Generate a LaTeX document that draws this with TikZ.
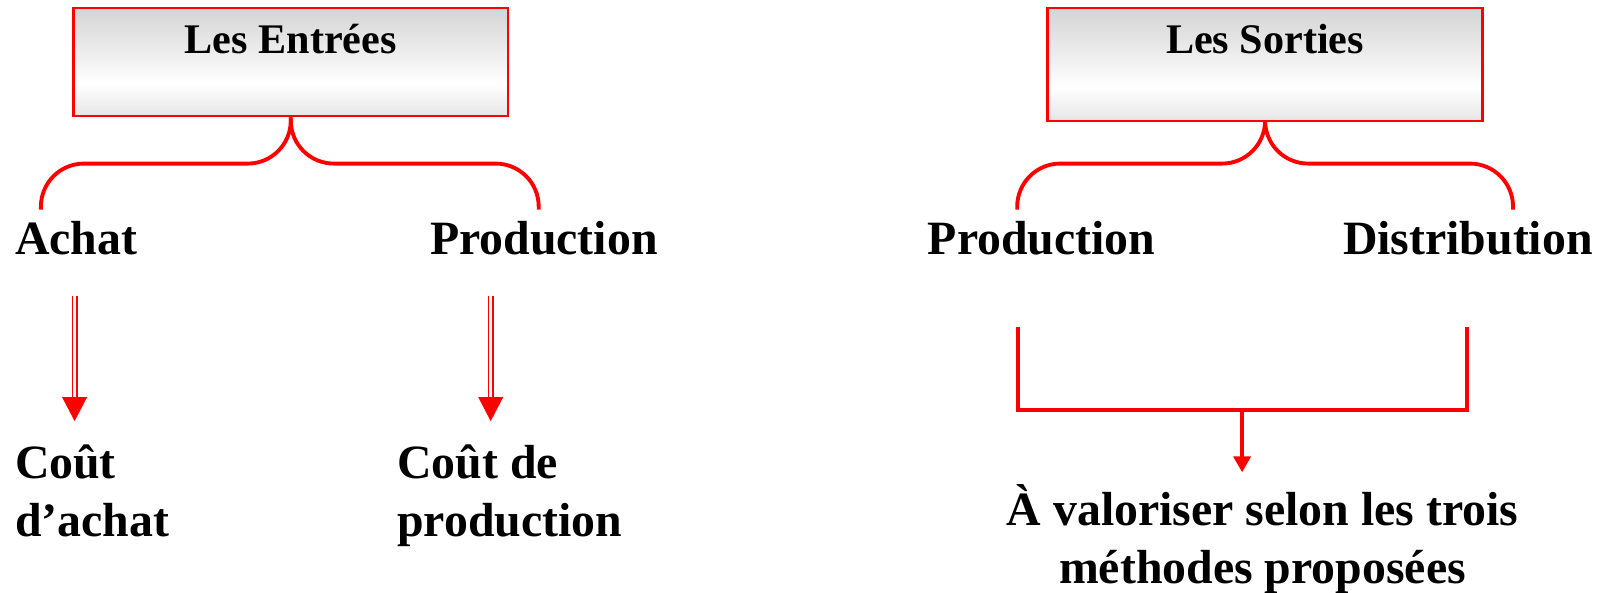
\documentclass[tikz,border=0pt]{standalone}
\usepackage{fontspec}
\setmainfont{Liberation Serif}
\usetikzlibrary{arrows.meta,positioning,calc}
\definecolor{linered}{RGB}{255,0,0}
\pgfdeclareverticalshading{boxshade}{100bp}{color(0bp)=(black!27); color(40bp)=(white); color(100bp)=(black!29)}

\begin{document}
\begin{tikzpicture}[
    titlebox/.style={rectangle, draw=linered, line width=0.8pt, shading=boxshade,
        minimum width=4.345cm, inner sep=0pt, text height=0.46cm, text depth=0.62cm, font=\fontsize{12}{14}\selectfont\bfseries},
    label/.style={inner sep=0pt, align=left, font=\fontsize{13.6}{16.4}\selectfont\bfseries},
    brace/.style={draw=linered, line width=1.1pt, rounded corners=0.43cm},
    dblarrow/.style={draw=linered, double=white, double distance=0.7pt, line width=0.5pt, -{Triangle[length=0.24cm,width=0.245cm]}},
    bracket/.style={draw=linered, line width=1.2pt},
    arrow/.style={draw=linered, line width=1.2pt, -{Triangle[length=0.16cm,width=0.17cm]}}
]
    \useasboundingbox (0,0) rectangle (16.03,-5.93);

    % Inputs
    \node[titlebox] (entrees) at (2.908,-0.62) {Les Entrées};
    \node[label, anchor=base west] (achat) at (0.143,-2.546) {Achat};
    \node[label, anchor=base west] (prodA) at (4.294,-2.546) {Production};
    \coordinate (bA) at (0.409,-2.096);
    \coordinate (bB) at (5.387,-2.096);
    \draw[brace] (entrees.south) |- ([yshift=0.46cm]bA) -- (bA);
    \draw[brace] (entrees.south) |- ([yshift=0.46cm]bB) -- (bB);

    % Costs
    \node[label, anchor=north west] (coutA) at (0.143,-4.44) {Coût\\d’achat};
    \node[label, anchor=north west] (coutB) at (3.966,-4.44) {Coût de\\production};
    \coordinate (aA) at (0.746,-2.965);
    \coordinate (aB) at (4.907,-2.965);
    \draw[dblarrow] (aA) -- (aA |- 0,-4.212);
    \draw[dblarrow] (aB) -- (aB |- 0,-4.212);

    % Outputs
    \node[titlebox, text depth=0.67cm] (sorties) at (12.651,-0.645) {Les Sorties};
    \node[label, anchor=base west] (prodB) at (9.272,-2.546) {Production};
    \node[label, anchor=base west] (distri) at (13.423,-2.546) {Distribution};
    \coordinate (bC) at (10.172,-2.096);
    \coordinate (bD) at (15.130,-2.096);
    \draw[brace] (sorties.south) |- ([yshift=0.46cm]bC) -- (bC);
    \draw[brace] (sorties.south) |- ([yshift=0.46cm]bD) -- (bD);

    % Valuation
    \coordinate (vL) at (10.182,-3.271);
    \coordinate (vR) at (14.670,-3.271);
    \coordinate (vM) at (12.421,-4.099);
    \draw[bracket] (vL) |- (vM) -| (vR);
    \node[label, align=center, anchor=north] (valor) at (12.625,-4.84) {À valoriser selon les trois\\méthodes proposées};
    \draw[arrow] (vM) -- (vM |- 0,-4.723);
\end{tikzpicture}
\end{document}
